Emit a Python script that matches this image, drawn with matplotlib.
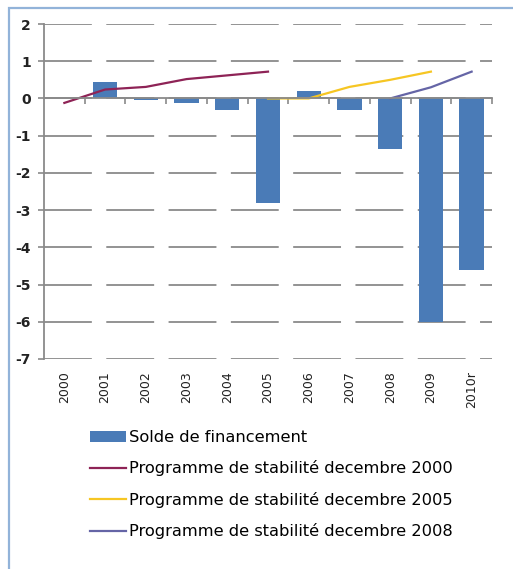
import matplotlib
matplotlib.use("Agg")
import matplotlib.pyplot as plt
from matplotlib.patches import Rectangle
import numpy as np

# data
years = ["2000", "2001", "2002", "2003", "2004", "2005", "2006", "2007", "2008", "2009", "2010r"]
solde = [0.0, 0.45, -0.05, -0.12, -0.32, -2.8, 0.2, -0.32, -1.35, -6.0, -4.6]
prog_2000 = [-0.12, 0.24, 0.31, 0.52, 0.62, 0.72, None, None, None, None, None]
prog_2005 = [None, None, None, None, None, 0.0, 0.0, 0.31, 0.5, 0.72, None]
prog_2008 = [None, None, None, None, None, None, None, None, 0.0, 0.3, 0.72]

labels = ["Solde de financement",
          "Programme de stabilité decembre 2000",
          "Programme de stabilité decembre 2005",
          "Programme de stabilité decembre 2008"]

plt.rcParams["font.family"] = ["DejaVu Sans"]
plt.rcParams["axes.unicode_minus"] = False

fig = plt.figure(figsize=(5.13, 5.69), dpi=100)
W, H = 513, 569
ax = fig.add_axes([44 / W, 1 - 359 / H, (492 - 44) / W, (359 - 24) / H])

x = np.arange(len(years))

def to_arr(v):
    return np.array([np.nan if a is None else a for a in v], dtype=float)

bars = ax.bar(x, solde, width=0.6, color="#4a7bb7", zorder=3)
l1, = ax.plot(x, to_arr(prog_2000), color="#8e2356", lw=1.6, zorder=4)
l2, = ax.plot(x, to_arr(prog_2005), color="#f6c623", lw=1.6, zorder=4)
l3, = ax.plot(x, to_arr(prog_2008), color="#6565a6", lw=1.6, zorder=4)

ax.set_xlim(-0.5, len(years) - 0.5)
ax.set_ylim(-7, 2)
ax.set_yticks(range(-7, 3))
ax.yaxis.grid(True, color="#8a8a8a", lw=1.3, linestyle=(0, (26.5, 8)), zorder=1)
ax.set_axisbelow(True)

for s in ["top", "right"]:
    ax.spines[s].set_visible(False)
ax.spines["left"].set_color("#8a8a8a")
ax.spines["left"].set_linewidth(1.3)
ax.spines["bottom"].set_position(("data", 0))
ax.spines["bottom"].set_color("#8a8a8a")
ax.spines["bottom"].set_linewidth(1.3)
ax.spines["bottom"].set_zorder(5)

ax.set_xticks(x)
ax.set_xticks(np.arange(-0.5, len(years), 1.0)[1:], minor=True)
ax.tick_params(axis="x", which="major", length=0, labelbottom=False)
ax.tick_params(axis="x", which="minor", length=4, width=1.2, color="#8a8a8a", direction="out")
ax.tick_params(axis="y", length=4.5, width=1.2, color="#8a8a8a", pad=5, labelsize=10)
for t in ax.get_yticklabels():
    t.set_fontweight("bold")
    t.set_color("#222222")

sec = ax.secondary_xaxis(0)
sec.set_xticks(x)
sec.set_xticklabels(years, rotation=90, fontsize=9, color="#222222")
sec.tick_params(length=0, pad=9)
sec.spines["bottom"].set_visible(False)

fig.legend([bars, l1, l2, l3], labels, loc="upper left",
           bbox_to_anchor=(90 / W, 1 - 430 / H), frameon=False,
           fontsize=11.7, handlelength=2.2, handletextpad=0.2,
           labelspacing=0.95, borderpad=0, borderaxespad=0)

# light blue frame around the chart (cut off at right and bottom)
fig.patches.append(Rectangle((9 / W, -0.1), 1.2, 1 - 8 / H + 0.1,
                             transform=fig.transFigure, fill=False,
                             edgecolor="#92b3d9", lw=1.6))

fig.savefig("out.png", dpi=100)
